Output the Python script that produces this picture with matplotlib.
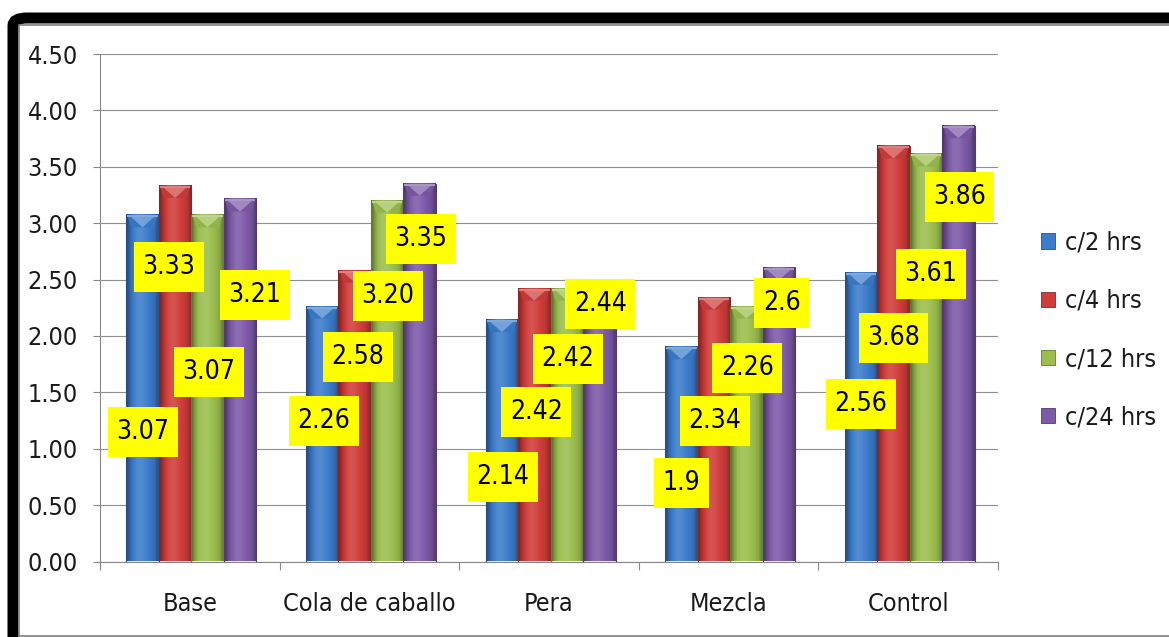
import matplotlib
matplotlib.use("Agg")
import matplotlib.pyplot as plt
import numpy as np
from matplotlib.patches import Rectangle, Polygon, FancyBboxPatch
from matplotlib.colors import to_rgb
from matplotlib import font_manager as fm

categories = ["Base", "Cola de caballo", "Pera", "Mezcla", "Control"]
series_names = ["c/2 hrs", "c/4 hrs", "c/12 hrs", "c/24 hrs"]
c2 = [3.07, 2.26, 2.14, 1.90, 2.56]
c4 = [3.33, 2.58, 2.42, 2.34, 3.68]
c12 = [3.07, 3.20, 2.42, 2.26, 3.61]
c24 = [3.21, 3.35, 2.44, 2.60, 3.86]
labels_c2 = ["3.07", "2.26", "2.14", "1.9", "2.56"]
labels_c4 = ["3.33", "2.58", "2.42", "2.34", "3.68"]
labels_c12 = ["3.07", "3.20", "2.42", "2.26", "3.61"]
labels_c24 = ["3.21", "3.35", "2.44", "2.6", "3.86"]
yticks = [0.0, 0.5, 1.0, 1.5, 2.0, 2.5, 3.0, 3.5, 4.0, 4.5]

# label placement (layout, data-y of label centre and x offset in px)
label_y = [
    [1.15, 1.25, 0.75, 0.70, 1.40],
    [2.61, 1.81, 1.33, 1.25, 1.98],
    [1.68, 2.35, 1.80, 1.72, 2.55],
    [2.36, 2.86, 2.28, 2.29, 3.23],
]
label_dx = [
    [0, 2, 1, 0, 0],
    [-6, 3, 2, 1, 0],
    [1, 1, 1, 1, 5],
    [15, 1, 1, 3, 1],
]

values = [c2, c4, c12, c24]
labels = [labels_c2, labels_c4, labels_c12, labels_c24]
colors = ["#3C7CCB", "#CF3D3A", "#9BBE4F", "#7D5AA8"]

# font choice: a condensed sans if available (closest to Calibri)
names = {(f.name, f.stretch) for f in fm.fontManager.ttflist}
fam_names = {f.name for f in fm.fontManager.ttflist}
stretch = "normal"
if "Liberation Sans Narrow" in fam_names:
    FONT = ["Liberation Sans Narrow", "DejaVu Sans"]
    scale = 1.0
elif any(n == "DejaVu Sans" and s == "condensed" for n, s in names):
    FONT = ["DejaVu Sans", "Liberation Sans"]
    stretch = "condensed"
    scale = 0.95
else:
    FONT = ["Liberation Sans", "DejaVu Sans"]
    scale = 0.88
plt.rcParams["font.family"] = FONT
plt.rcParams["font.stretch"] = stretch

FS_TICK = 19 * scale
FS_LAB = 20 * scale

W, H = 1169, 637
fig = plt.figure(figsize=(W / 100, H / 100), dpi=100)
fig.patch.set_facecolor("white")

# frame
fig.patches.append(FancyBboxPatch((13 / W, 1 - 660 / H), (1300 - 13) / W, (660 - 18) / H,
                                  boxstyle="round,pad=0,rounding_size=0.012",
                                  transform=fig.transFigure, fc="none", ec="black",
                                  lw=11 * 0.72, zorder=-5))
fig.patches.append(Rectangle((18.5 / W, 1 - 636 / H), (1300) / W, (636 - 24.5) / H,
                             transform=fig.transFigure, fc="none", ec="#7f7f7f",
                             lw=1.2, zorder=-4))

ax_l, ax_r, ax_t, ax_b = 100, 998, 54, 561.5
ax = fig.add_axes([ax_l / W, 1 - ax_b / H, (ax_r - ax_l) / W, (ax_b - ax_t) / H])
ax.set_xlim(-0.5, 4.5)
ax.set_ylim(0, 4.5)
ax.set_facecolor("none")

px_x = 5.0 / (ax_r - ax_l)          # data units per pixel (x)
px_y = 4.5 / (ax_b - ax_t)          # data units per pixel (y)
bw = 32.5 * px_x
x = np.arange(len(categories))


def shade(col, f):
    c = np.array(to_rgb(col))
    if f >= 0:
        return c + (1 - c) * f
    return c * (1 + f)


prof = np.array([-0.35, -0.15, 0.0, 0.08, 0.12, 0.1, 0.05, 0.0, -0.05, -0.12, -0.3])
for j, (vals, col) in enumerate(zip(values, colors)):
    for i, v in enumerate(vals):
        xc = x[i] + (j - 1.5) * bw + 1.5 * px_x
        x0, x1 = xc - bw / 2, xc + bw / 2
        grad = np.array([[shade(col, f) for f in prof]])
        ax.imshow(grad, extent=[x0, x1, 0, v], aspect="auto", zorder=2,
                  interpolation="bilinear")
        ax.add_patch(Rectangle((x0, 0), bw, v, fc="none",
                               ec=shade(col, -0.35), lw=0.8, zorder=3))
        bh = 12 * px_y
        ax.add_patch(Polygon([[x0 + 1 * px_x, v], [x1 - 1 * px_x, v], [x1 - 5 * px_x, v - bh],
                              [x0 + 5 * px_x, v - bh]], closed=True,
                             fc=shade(col, -0.06), ec="none", zorder=3))
        ax.add_patch(Polygon([[x0 + 4 * px_x, v - 1 * px_y], [x1 - 4 * px_x, v - 1 * px_y],
                              [xc, v - bh]], closed=True,
                             fc=shade(col, 0.28), ec="none", zorder=3))
        ax.add_patch(Rectangle((x0 + px_x, v - 2 * px_y), bw - 2 * px_x, 2 * px_y,
                               fc=shade(col, 0.35), ec="none", zorder=3))

# axes styling
ax.set_yticks(yticks)
ax.set_yticklabels([f"{t:.2f}" for t in yticks])
ax.set_xticks(np.arange(-0.5, 5.0, 1.0))
ax.set_xticklabels([])
ax.set_xticks(x, minor=True)
ax.set_xticklabels(categories, minor=True)
ax.tick_params(axis="y", length=5, width=0.8, color="#868686", pad=11, labelsize=FS_TICK,
               labelcolor="#1a1a1a")
ax.tick_params(axis="x", which="major", length=6, width=0.8, color="#868686")
ax.tick_params(axis="x", which="minor", length=0, pad=22, labelsize=FS_TICK,
               labelcolor="#1a1a1a")
ax.grid(axis="y", color="#8f8f8f", lw=0.8, zorder=0)
ax.set_axisbelow(True)
for s in ["top", "right"]:
    ax.spines[s].set_visible(False)
for s in ["left", "bottom"]:
    ax.spines[s].set_color("#868686")
    ax.spines[s].set_linewidth(0.8)

# data labels
texts = []
for j in range(4):
    for i in range(len(categories)):
        xc = x[i] + (j - 1.5) * bw + 1.5 * px_x + label_dx[j][i] * px_x
        t = ax.text(xc, label_y[j][i], labels[j][i], ha="center", va="center",
                    fontsize=FS_LAB, color="black", zorder=6)
        texts.append(t)

fig.canvas.draw()
r = fig.canvas.get_renderer()
inv = ax.transData.inverted()
for t in texts:
    bb = t.get_window_extent(r)
    cx, cy = t.get_position()
    dcx, dcy = ax.transData.transform((cx, cy))
    w = bb.width + 17
    h = 50
    (ax0, ay0) = inv.transform((dcx - w / 2, dcy - h / 2))
    (ax1, ay1) = inv.transform((dcx + w / 2, dcy + h / 2))
    ax.add_patch(Rectangle((ax0, ay0), ax1 - ax0, ay1 - ay0, fc="#FFFF00", ec="none",
                           zorder=5))

# legend
handles = [Rectangle((0, 0), 1, 1, fc=c, ec=shade(c, -0.35), lw=0.6) for c in colors]
fig.legend(handles, series_names, loc="center left",
           bbox_to_anchor=(1041 / W, 1 - 330 / H), frameon=False, fontsize=FS_TICK,
           handlelength=0.55, handleheight=0.55, handletextpad=0.4,
           labelspacing=1.36, borderpad=0, borderaxespad=0,
           labelcolor="#1a1a1a")

fig.savefig("out.png", dpi=100, facecolor="white")
